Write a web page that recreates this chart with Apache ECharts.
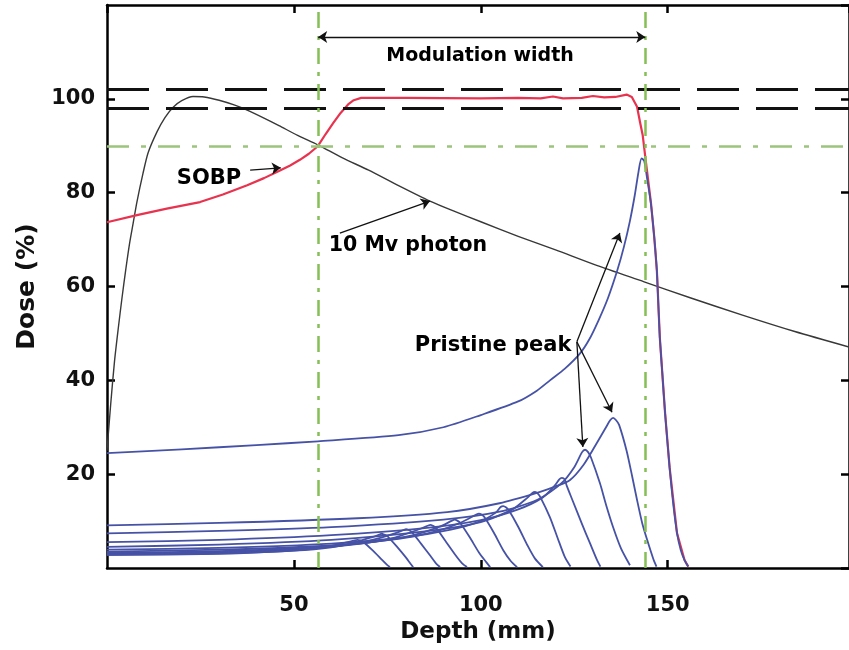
<!DOCTYPE html>
<html>
<head>
<meta charset="utf-8">
<script src="https://cdn.jsdelivr.net/npm/echarts@6/dist/echarts.min.js"></script>
<style>
  html, body { margin: 0; padding: 0; background: #fff; }
  #main { width: 849px; height: 650px; }
</style>
</head>
<body>
<div id="main"></div>
<script>
// depth (mm), dose (%)
var photon = [[0,25],[1,35],[2,44],[3,51],[4,57.5],[5,63.5],[6,69],[7,73.5],[8,78],[9.6,84],[11,88.5],[13.4,93],
  [15.5,96],[17.7,98.2],[20,99.6],[23,100.5],[26,100.4],[30,99.7],[34,98.7],[37.5,97.6],[42,95.9],[46,94.3],[51,92.2],
  [56.4,90.2],[63,87.4],[70,84.8],[78,81.5],[86.4,78.2],[93,76],[100,73.8],[110,70.7],[120,67.8],[131,64.5],
  [143.7,61],[156,57.6],[170,53.9],[184,50.4],[198.5,47.1]];

var sobp = [[0,73.7],[8,75.2],[16,76.6],[24.9,78],[31,79.6],[37.5,81.6],[42,83.1],[46,84.6],[49,85.8],[51.6,87],
  [54,88.3],[56.4,89.9],[58.5,92.5],[60.5,94.8],[62.5,97],[64.5,98.8],[66,99.7],[68,100.2],[80,100.2],[100,100.1],
  [110,100.2],[116,100.1],[119.3,100.5],[122,100.1],[127,100.2],[130,100.6],[133,100.3],[136,100.4],[139,100.9],
  [140.4,100.4],[141.8,98.3],[142.6,95],[143.3,92.3],[144.1,87],[145.5,78],[146.4,70.5],[147.1,63.4],[147.9,49],
  [149.3,33],[150.5,21.5],[152.5,7.4],[154.5,1.7],[155.5,0.3]];

// pristine Bragg peaks, deepest first
var peak1 = [[0,24.5],[20,25.3],[40,26.2],[56.4,27],[78,28.3],[90,30],[100,32.6],[110,35.5],[115,37.8],[118.5,40],
  [122.5,42.5],[126.5,45.7],[129,48.7],[131.5,52.8],[134,57.5],[136.5,63.4],[138.3,68.5],[139.9,74],[141.2,79.5],
  [142.2,84.5],[143,87.3],[143.7,86.8],[144.4,83.5],[145.5,77.7],[146.4,70.5],[147.1,63.4],[147.5,56],[147.9,49],
  [148.6,41],[149.3,33],[150.5,21.5],[151.5,13.5],[152.5,7.4],[153.5,3.8],[154.5,1.7],[155.5,0.3]];
var peak2 = [[0,9.1],[30,9.6],[67,10.6],[91,11.9],[105,13.8],[115,16],[120,17.4],[123.8,18.7],[127.5,22],[131,26.6],
  [133.5,30],[134.6,31.5],[135.4,32],[136.2,31.5],[137,30.5],[139,25],[140.5,19.5],[141.8,14.5],[143.2,9.5],
  [144.5,6],[146.2,1.8],[147,0.3]];
var peak3 = [[0,7.4],[30,7.9],[60,8.7],[90,10.3],[105,12],[115,14.5],[121.5,18],[125,21.5],[127.1,24.7],[127.9,25.2],
  [128.7,24.7],[129.5,23.5],[131.9,18],[133.5,13.5],[135.4,8.7],[137.5,4.2],[139.9,0.6]];
var peak4 = [[0,5.5],[30,6],[60,7],[85,8.5],[100,10.2],[110,12.5],[116.5,15],[119.7,17.5],[121,18.9],[121.7,19.2],
  [122.4,18.9],[123,17.5],[124.5,14.5],[127,9.5],[129.2,5.3],[131.2,1.5],[132,0.3]];
var peak5 = [[0,4.5],[30,5],[60,6],[85,7.8],[100,9.8],[108.5,12.5],[112.5,15],[113.8,16],[114.5,16.2],[115.2,15.9],
  [116,15],[118.5,10.8],[120.5,6.5],[122.5,2.3],[124,0.3]];
var peak6 = [[0,3.9],[30,4.3],[60,5.2],[80,6.6],[92,8.2],[100,10],[104,11.8],[105.3,13],[106,13.2],[106.8,12.9],
  [107.5,12.3],[110,8.8],[112.5,4.8],[114.5,2],[116.6,0.2]];
var peak7 = [[0,3.5],[30,3.9],[60,4.8],[78,6.2],[88,7.8],[95,9.8],[98.8,11.4],[99.5,11.6],[100.2,11.4],[101,10.8],
  [103.5,7.5],[106,3.8],[108,1.5],[109.7,0.2]];
var peak8 = [[0,3.2],[30,3.6],[55,4.4],[72,5.6],[82,7],[89,8.8],[92.3,10.1],[93,10.3],[93.7,10.1],[94.5,9.6],
  [97,6.6],[99.5,3.3],[101.5,1.2],[102.5,0.2]];
var peak9 = [[0,3],[30,3.4],[55,4.2],[68,5.2],[77,6.5],[83,8.1],[85.8,9],[86.5,9.2],[87.2,9],[88,8.6],[90.5,5.8],
  [93,3],[95,1],[96.3,0.2]];
var peak10 = [[0,2.9],[30,3.2],[50,3.9],[63,4.8],[71,6],[77,7.4],[79.3,8.1],[80,8.3],[80.7,8.1],[81.5,7.7],[84,5.2],
  [86.5,2.6],[88,1],[89.1,0.2]];
var peak11 = [[0,2.8],[30,3.1],[50,3.7],[60,4.4],[66,5.4],[71,6.6],[72.8,7.1],[73.5,7.3],[74.2,7.1],[75,6.8],
  [77.5,4.6],[80,2.2],[81.3,0.8],[81.9,0.2]];
var peak12 = [[0,2.8],[30,3],[45,3.5],[55,4.1],[61,4.9],[65,5.6],[66.3,5.9],[67,6],[67.7,5.9],[68.5,5.6],[71,3.8],
  [73.5,1.8],[75,0.6],[75.7,0.2]];
var pristine = [peak1, peak2, peak3, peak4, peak5, peak6, peak7, peak8, peak9, peak10, peak11, peak12];

var toleranceLines = [98, 102];
var sobpEdges = [56.5, 144];
var referenceDose = 90;

var modulationArrow = [[56.5, 113.2], [144, 113.2]];
var sobpArrow = [[38.3, 84.8], [46.5, 85.3]];
var photonArrow = [[62.3, 71.4], [86.4, 78.2]];
var pristineFrom = [125.7, 48.2];
var pristineTo = [[137.2, 71.4], [127.3, 25.8], [135.1, 33.2]];

var noteTexts = ['Modulation width', 'SOBP', '10 Mv photon', 'Pristine peak'];
var notePositions = [[99.8, 109.1], [27.3, 83.1], [80.5, 68.6], [103.3, 47.5]];

var FONT = 'DejaVu Sans';
var noteSizes = [19, 21, 20.5, 21];
var chart = echarts.init(document.getElementById('main'));

function arrowLine(a, b, startSym) {
  return [{ coord: a, symbol: startSym || 'none' }, { coord: b, symbol: 'arrow' }];
}

var blueSeries = pristine.map(function (d) {
  return {
    type: 'line', data: d, showSymbol: false, smooth: 0.25, z: 4,
    lineStyle: { color: '#4652a6', width: 1.8, join: 'round' }
  };
});

var arrowData = [arrowLine(modulationArrow[0], modulationArrow[1], 'arrow'),
  arrowLine(sobpArrow[0], sobpArrow[1]), arrowLine(photonArrow[0], photonArrow[1])];
pristineTo.forEach(function (p) { arrowData.push(arrowLine(pristineFrom, p)); });

var axisCommon = {
  axisLine: { show: true, onZero: false, lineStyle: { color: '#000', width: 2.5 } },
  axisTick: { show: true, inside: true, length: 8, lineStyle: { color: '#000', width: 2.5 } },
  splitLine: { show: false }
};
var labelStyle = { fontFamily: FONT, fontWeight: 'bold', fontSize: 21, color: '#111' };
var nameStyle = { fontFamily: FONT, fontWeight: 'bold', fontSize: 23, color: '#111' };

var option = {
  animation: false,
  backgroundColor: '#fff',
  grid: { left: 107, right: 0, top: 5, bottom: 82 },
  xAxis: [
    Object.assign({
      type: 'value', min: 0, max: 198.5, interval: 50, position: 'bottom',
      axisLabel: Object.assign({ margin: 27, showMinLabel: false, showMaxLabel: false }, labelStyle),
      name: 'Depth (mm)', nameLocation: 'middle', nameGap: 52, nameTextStyle: nameStyle
    }, axisCommon),
    Object.assign({
      type: 'value', min: 0, max: 198.5, interval: 50, position: 'top', axisLabel: { show: false }
    }, axisCommon)
  ],
  yAxis: [
    Object.assign({
      type: 'value', min: 0, max: 120, interval: 20, position: 'left',
      axisLabel: Object.assign({ margin: 12, showMinLabel: false, showMaxLabel: false }, labelStyle),
      name: 'Dose (%)', nameLocation: 'middle', nameGap: 63,
      nameTextStyle: Object.assign({}, nameStyle, { fontSize: 25 })
    }, axisCommon),
    Object.assign({
      type: 'value', min: 0, max: 120, interval: 20, position: 'right', axisLabel: { show: false }
    }, axisCommon)
  ],
  series: [
    {
      type: 'line', data: photon, showSymbol: false, smooth: 0.25, z: 3,
      lineStyle: { color: '#383838', width: 1.4, join: 'round' }
    },
    {
      type: 'line', data: sobp, showSymbol: false, z: 3,
      lineStyle: { color: '#e8334f', width: 2.2, join: 'round' }
    }
  ].concat(blueSeries).concat([
    {
      type: 'line', data: [], z: 2,
      markLine: {
        silent: true, symbol: 'none', label: { show: false },
        lineStyle: { color: '#111', width: 3, type: [42, 17] },
        data: toleranceLines.map(function (v) { return { yAxis: v }; })
      }
    },
    {
      type: 'line', data: [], z: 6,
      markLine: {
        silent: true, symbol: 'none', label: { show: false },
        lineStyle: { color: '#86bf55', width: 2.5, type: [16, 8, 4, 8] },
        data: sobpEdges.map(function (v) { return { xAxis: v }; })
          .concat([{ yAxis: referenceDose, lineStyle: { color: '#9cc47c', type: [22, 12, 5, 12] } }])
      }
    },
    {
      type: 'line', data: [], z: 7,
      markLine: {
        silent: true, symbolSize: 9, label: { show: false },
        lineStyle: { color: '#111', width: 1.3, type: 'solid' },
        data: arrowData
      }
    },
    {
      type: 'scatter', symbolSize: 0, z: 8, silent: true,
      itemStyle: { opacity: 1 },
      data: noteTexts.map(function (t, i) {
        return { name: t, value: notePositions[i], label: { fontSize: noteSizes[i] } };
      }),
      label: {
        show: true, position: 'inside', formatter: '{b}', textBorderWidth: 0,
        fontFamily: FONT, fontWeight: 'bold', color: '#000'
      }
    }
  ])
};

chart.setOption(option);
</script>
</body>
</html>
